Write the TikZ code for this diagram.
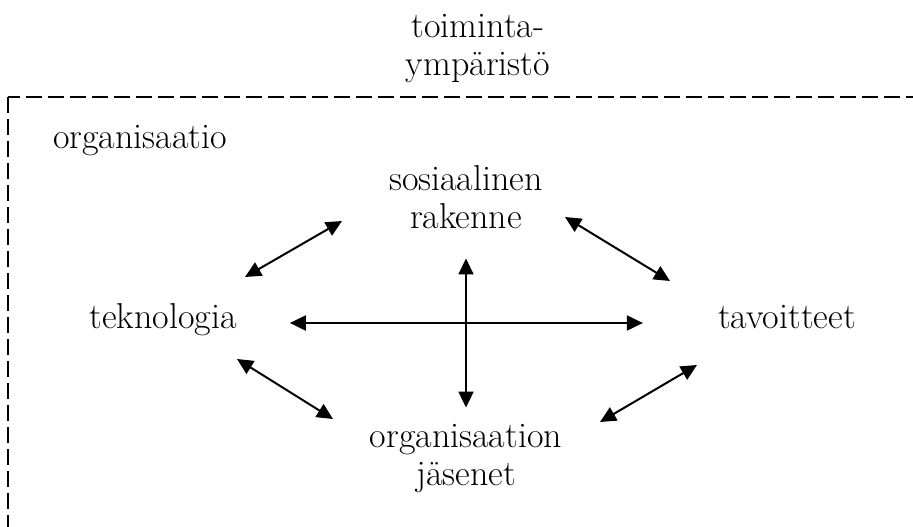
\documentclass[tikz,border=0pt]{standalone}
\usetikzlibrary{arrows.meta}
\begin{document}
\begin{tikzpicture}[x=1pt,y=-1pt,
  every node/.style={font=\fontsize{36}{38}\selectfont, align=center, inner sep=0pt},
  side/.style={text height=20pt, text depth=10pt},
  arr/.style={{Triangle[length=16pt,width=15pt]}-{Triangle[length=16pt,width=15pt]}, line width=2pt},
  env/.style={line width=1.8pt, dash pattern=on 16pt off 6pt}]
\useasboundingbox (0,0) rectangle (913,527);
\clip (0,0) rectangle (913,527);
% environment border
\draw[env] (8,97) rectangle (950,580);

\node (ymp) [anchor=base] at (478,75) {toiminta-\\ympäristö};
\node (org) [anchor=base] at (140,148) {organisaatio};
\node (sos) [anchor=base] at (466,228) {sosiaalinen\\rakenne};
\node (tek) [side, anchor=base] at (163,328) {teknologia};
\node (tav) [side, anchor=base] at (787,328) {tavoitteet};
\node (jas) [anchor=base] at (466,485) {organisaation\\jäsenet};

% arrow ends
\coordinate (tekNE) at (245,277);
\coordinate (sosSW) at (342,221);
\coordinate (tekSE) at (237,359);
\coordinate (jasNW) at (333,419);
\coordinate (sosSE) at (565,217);
\coordinate (tavNW) at (670,281);
\coordinate (tavSW) at (697,365);
\coordinate (jasNE) at (600,422);

\draw[arr, shorten <=53pt, shorten >=75pt] (tek) -- (tav);
\draw[arr, shorten <=30pt, shorten >=16pt] (sos) -- (jas);
\draw[arr] (tekNE) -- (sosSW);
\draw[arr] (tekSE) -- (jasNW);
\draw[arr] (sosSE) -- (tavNW);
\draw[arr] (tavSW) -- (jasNE);
\end{tikzpicture}
\end{document}
